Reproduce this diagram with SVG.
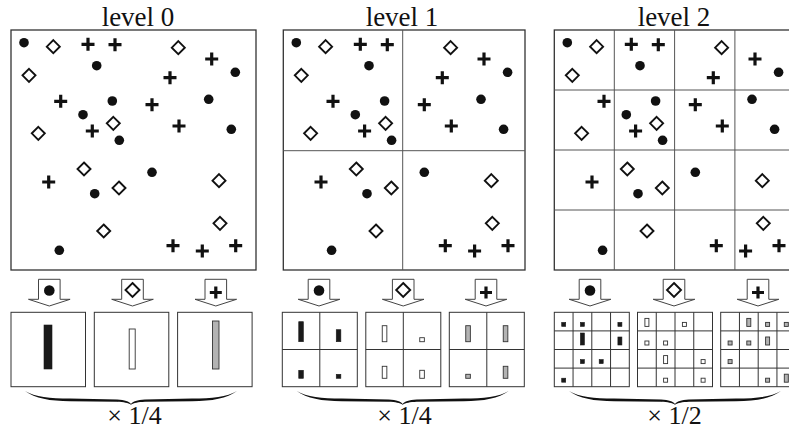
<svg xmlns="http://www.w3.org/2000/svg" xmlns:xlink="http://www.w3.org/1999/xlink" width="789" height="432" viewBox="0 0 789 432">
<style>
.frame{fill:none;stroke:#333;stroke-width:1.3}
.grid{fill:none;stroke:#555;stroke-width:1}
.sbox{fill:none;stroke:#333;stroke-width:1}
.dot{fill:#111}
.dm{fill:#fff;stroke:#111;stroke-width:1.9}
.pl{fill:none;stroke:#111;stroke-width:3.2}
.arrow{fill:#fff;stroke:#444;stroke-width:1}
.bk{fill:#1a1a1a;stroke:#1a1a1a;stroke-width:0.6}
.wh{fill:#fff;stroke:#333;stroke-width:0.9}
.gr{fill:#b3b3b3;stroke:#333;stroke-width:0.9}
.brace{fill:#111}
text{font-family:"Liberation Serif","Times New Roman",serif;fill:#111;text-anchor:middle}
.title{font-size:27px}
.scale{font-size:26px}
</style>
<defs>
<circle id="dt" r="4.8" class="dot"/>
<path id="dm" class="dm" d="M0,-6.5 L6.5,0 L0,6.5 L-6.5,0 Z"/>
<path id="pl" class="pl" d="M-6.5,0 H6.5 M0,-6.5 V6.5"/>
<circle id="adt" r="5.3" class="dot"/>
<path id="adm" class="dm" d="M0,-7 L7,0 L0,7 L-7,0 Z"/>
<path id="apl" class="pl" d="M-6,0 H6 M0,-6 V6"/>
<path id="arr" class="arrow" d="M-10.8,0 H10.8 V20 H20.8 L0,26.7 L-20.8,20 H-10.8 Z"/>
<path id="brc" class="brace" d="M0,0 C10,6 25,7.5 45,7.5 L92,8.5 C100,9 104,10.5 106,13 C108,10.5 112,9 120,8.5 L167,7.5 C187,7.5 202,6 212,0 C202,7.5 187,10 167,10.3 L120,10.7 C113,11 109,11.7 106,13.8 C103,11.7 99,11 92,10.7 L45,10.3 C25,10 10,7.5 0,0 Z"/>
<g id="pts">
<use xlink:href="#dt" x="24" y="42.7"/>
<use xlink:href="#dt" x="96.7" y="65.7"/>
<use xlink:href="#dt" x="235.3" y="72.3"/>
<use xlink:href="#dt" x="112.3" y="101"/>
<use xlink:href="#dt" x="208.7" y="99.3"/>
<use xlink:href="#dt" x="83" y="114.7"/>
<use xlink:href="#dt" x="231.3" y="129.3"/>
<use xlink:href="#dt" x="119.3" y="140.3"/>
<use xlink:href="#dt" x="152" y="172.3"/>
<use xlink:href="#dt" x="94.7" y="193.7"/>
<use xlink:href="#dt" x="59.3" y="250.3"/>
<use xlink:href="#dm" x="53.3" y="46.7"/>
<use xlink:href="#dm" x="178.3" y="47.7"/>
<use xlink:href="#dm" x="29" y="75.3"/>
<use xlink:href="#dm" x="113.3" y="123.3"/>
<use xlink:href="#dm" x="38.3" y="133.3"/>
<use xlink:href="#dm" x="84" y="169"/>
<use xlink:href="#dm" x="119" y="188"/>
<use xlink:href="#dm" x="219" y="180.7"/>
<use xlink:href="#dm" x="220" y="223.3"/>
<use xlink:href="#dm" x="103.7" y="231"/>
<use xlink:href="#pl" x="88" y="44.3"/>
<use xlink:href="#pl" x="115" y="44.7"/>
<use xlink:href="#pl" x="211.7" y="59"/>
<use xlink:href="#pl" x="170" y="77.7"/>
<use xlink:href="#pl" x="60.7" y="101.3"/>
<use xlink:href="#pl" x="152" y="104.7"/>
<use xlink:href="#pl" x="179" y="126"/>
<use xlink:href="#pl" x="92.3" y="131"/>
<use xlink:href="#pl" x="48.7" y="182"/>
<use xlink:href="#pl" x="173" y="245.7"/>
<use xlink:href="#pl" x="202.3" y="251"/>
<use xlink:href="#pl" x="235.7" y="245.7"/>
</g>
</defs>

<!-- Level 0 -->
<g id="level0">
<text class="title" x="138" y="25.5">level 0</text>
<rect class="frame" x="11" y="30" width="245" height="240"/>
<use xlink:href="#pts"/>
</g>
<g id="level0-bins">
<use xlink:href="#arr" x="49.3" y="279.3"/>
<use xlink:href="#adt" x="49.3" y="290.5"/>
<use xlink:href="#arr" x="132.5" y="279.3"/>
<use xlink:href="#adm" x="132.5" y="290"/>
<use xlink:href="#arr" x="215.8" y="279.3"/>
<use xlink:href="#apl" x="215.8" y="292.5"/>
<rect class="sbox" x="11" y="312.3" width="74.5" height="74.4"/>
<rect class="sbox" x="94.3" y="312.3" width="74.5" height="74.4"/>
<rect class="sbox" x="177.6" y="312.3" width="74.5" height="74.4"/>
<rect class="bk" x="44" y="325" width="8" height="44"/>
<rect class="wh" x="129.2" y="329" width="6" height="40"/>
<rect class="gr" x="212.5" y="321" width="6.5" height="48"/>
<use xlink:href="#brc" x="25" y="391"/>
<text class="scale" x="134.5" y="424">× 1/4</text>
</g>

<!-- Level 1 -->
<g id="level1">
<text class="title" x="402" y="25.5">level 1</text>
<rect class="frame" x="283.3" y="30" width="241.7" height="240"/>
<path class="grid" d="M402.7,30 V270 M283.3,150.7 H525"/>
<use xlink:href="#pts" transform="translate(272.3,0)"/>
</g>
<g id="level1-bins">
<use xlink:href="#arr" x="319" y="279.3"/>
<use xlink:href="#adt" x="319" y="290.5"/>
<use xlink:href="#arr" x="403.2" y="279.3"/>
<use xlink:href="#adm" x="403.2" y="290"/>
<use xlink:href="#arr" x="486" y="279.3"/>
<use xlink:href="#apl" x="486" y="292.5"/>
<rect class="sbox" x="282.3" y="312.3" width="75" height="74.4"/>
<rect class="sbox" x="365.8" y="312.3" width="75" height="74.4"/>
<rect class="sbox" x="449.3" y="312.3" width="75" height="74.4"/>
<path class="sbox" d="M319.8,312.3 V386.7 M282.3,349.5 H357.3 M403.3,312.3 V386.7 M365.8,349.5 H440.8 M486.8,312.3 V386.7 M449.3,349.5 H524.3"/>
<rect class="bk" x="298.75" y="321.7" width="4.6" height="20"/>
<rect class="bk" x="336.25" y="329.7" width="4.6" height="12"/>
<rect class="bk" x="298.75" y="370.3" width="4.6" height="8"/>
<rect class="bk" x="336.25" y="374.3" width="4.6" height="4"/>
<rect class="wh" x="382.25" y="325.7" width="4.6" height="16"/>
<rect class="wh" x="419.75" y="337.7" width="4.6" height="4"/>
<rect class="wh" x="382.25" y="366.3" width="4.6" height="12"/>
<rect class="wh" x="419.75" y="370.3" width="4.6" height="8"/>
<rect class="gr" x="465.75" y="325.7" width="4.6" height="16"/>
<rect class="gr" x="503.25" y="325.7" width="4.6" height="16"/>
<rect class="gr" x="465.75" y="374.3" width="4.6" height="4"/>
<rect class="gr" x="503.25" y="366.3" width="4.6" height="12"/>
<use xlink:href="#brc" x="296.7" y="391"/>
<text class="scale" x="404.5" y="424">× 1/4</text>
</g>

<!-- Level 2 -->
<g id="level2">
<text class="title" x="674" y="25.5">level 2</text>
<rect class="frame" x="554.3" y="30" width="241.3" height="240"/>
<path class="grid" d="M614.3,30 V270 M674.6,30 V270 M734.9,30 V270 M554.3,90 H789 M554.3,150 H789 M554.3,210 H789"/>
<use xlink:href="#pts" transform="translate(543.3,0)"/>
</g>
<g id="level2-bins">
<use xlink:href="#arr" x="590" y="279.3"/>
<use xlink:href="#adt" x="590" y="290.5"/>
<use xlink:href="#arr" x="674" y="279.3"/>
<use xlink:href="#adm" x="674" y="290"/>
<use xlink:href="#arr" x="758" y="279.3"/>
<use xlink:href="#apl" x="758" y="292.5"/>
<rect class="sbox" x="554.3" y="312.3" width="75" height="74.4"/>
<rect class="sbox" x="637.5" y="312.3" width="75" height="74.4"/>
<rect class="sbox" x="720.7" y="312.3" width="75" height="74.4"/>
<path class="sbox" d="M573.05,312.3 V386.7 M591.8,312.3 V386.7 M610.55,312.3 V386.7 M554.3,330.9 H629.3 M554.3,349.5 H629.3 M554.3,368.1 H629.3"/>
<path class="sbox" d="M656.25,312.3 V386.7 M675,312.3 V386.7 M693.75,312.3 V386.7 M637.5,330.9 H712.5 M637.5,349.5 H712.5 M637.5,368.1 H712.5"/>
<path class="sbox" d="M739.45,312.3 V386.7 M758.2,312.3 V386.7 M776.95,312.3 V386.7 M720.7,330.9 H795.7 M720.7,349.5 H795.7 M720.7,368.1 H795.7"/>
<rect class="bk" x="561.7" y="322.4" width="4" height="4"/>
<rect class="bk" x="580.4" y="322.4" width="4" height="4"/>
<rect class="bk" x="617.9" y="322.4" width="4" height="4"/>
<rect class="bk" x="580.4" y="333" width="4" height="12"/>
<rect class="bk" x="617.9" y="337" width="4" height="8"/>
<rect class="bk" x="580.4" y="359.6" width="4" height="4"/>
<rect class="bk" x="599.2" y="359.6" width="4" height="4"/>
<rect class="bk" x="561.7" y="378.2" width="4" height="4"/>
<rect class="wh" x="644.9" y="318.4" width="4" height="8"/>
<rect class="wh" x="682.4" y="322.4" width="4" height="4"/>
<rect class="wh" x="644.9" y="341" width="4" height="4"/>
<rect class="wh" x="663.6" y="341" width="4" height="4"/>
<rect class="wh" x="663.6" y="355.6" width="4" height="8"/>
<rect class="wh" x="701.1" y="359.6" width="4" height="4"/>
<rect class="wh" x="663.6" y="378.2" width="4" height="4"/>
<rect class="wh" x="701.1" y="378.2" width="4" height="4"/>
<rect class="gr" x="746.8" y="318.4" width="4" height="8"/>
<rect class="gr" x="765.6" y="322.4" width="4" height="4"/>
<rect class="gr" x="784.3" y="322.4" width="4" height="4"/>
<rect class="gr" x="728.1" y="341" width="4" height="4"/>
<rect class="gr" x="746.8" y="341" width="4" height="4"/>
<rect class="gr" x="765.6" y="337" width="4" height="8"/>
<rect class="gr" x="728.1" y="359.6" width="4" height="4"/>
<rect class="gr" x="765.6" y="378.2" width="4" height="4"/>
<rect class="gr" x="784.3" y="374.2" width="4" height="8"/>
<use xlink:href="#brc" x="569" y="391"/>
<text class="scale" x="674.5" y="424">× 1/2</text>
</g>
</svg>
